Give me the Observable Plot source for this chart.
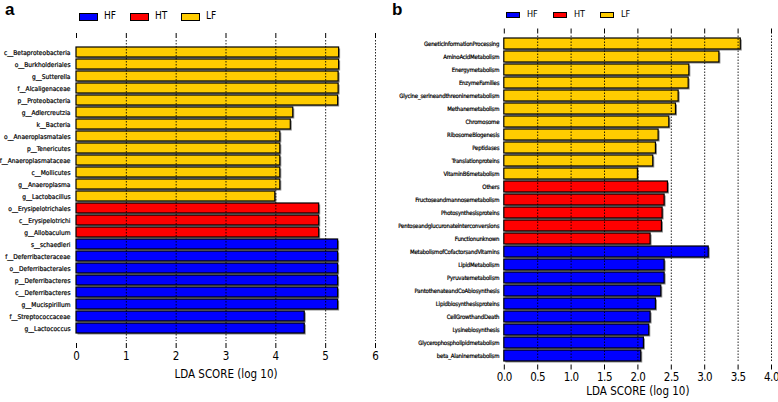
<!DOCTYPE html>
<html><head><meta charset="utf-8">
<script src="https://cdn.jsdelivr.net/npm/d3@7"></script>
<script src="https://cdn.jsdelivr.net/npm/@observablehq/plot@0.6"></script>
<style>
body{margin:0;background:#fff;}
#wrap{position:relative;width:778px;height:402px;overflow:hidden;font-family:"DejaVu Sans Condensed","DejaVu Sans",sans-serif;}
.panel{position:absolute;top:0;}
.panel svg{overflow:visible;}
.panel g[aria-label='y-axis tick label'] text{stroke:#000;stroke-width:0.2px;}
.tag{position:absolute;top:1px;line-height:1;font:bold 17px/1 "Liberation Sans",Arial,sans-serif;color:#000;}
.sw{position:absolute;border:1px solid #000;box-sizing:border-box;}
.lt{position:absolute;font-family:"DejaVu Sans Condensed","DejaVu Sans",sans-serif;color:#000;line-height:1;}
</style></head>
<body><div id="wrap"></div>
<script>
// ---- data ----
const groupNames = ["HF", "HT", "LF"];
const groupColors = ["#0000FF", "#FF0000", "#FFCC00"];

const leftLabels = ["c__Betaproteobacteria","o__Burkholderiales","g__Sutterella","f__Alcaligenaceae","p__Proteobacteria","g__Adlercreutzia","k__Bacteria","o__Anaeroplasmatales","p__Tenericutes","f__Anaeroplasmataceae","c__Mollicutes","g__Anaeroplasma","g__Lactobacillus","o__Erysipelotrichales","c__Erysipelotrichi","g__Allobaculum","s__schaedleri","f__Deferribacteraceae","o__Deferribacterales","p__Deferribacteres","c__Deferribacteres","g__Mucispirillum","f__Streptococcaceae","g__Lactococcus"];
const leftValues = [5.27,5.27,5.26,5.26,5.25,4.35,4.30,4.09,4.09,4.09,4.09,4.09,3.99,4.87,4.87,4.87,5.25,5.25,5.25,5.25,5.25,5.25,4.58,4.58];
const leftGroups = ["LF","LF","LF","LF","LF","LF","LF","LF","LF","LF","LF","LF","LF","HT","HT","HT","HF","HF","HF","HF","HF","HF","HF","HF"];
const leftTicks = [0,1,2,3,4,5,6];

const rightLabels = ["GeneticInformationProcessing","AminoAcidMetabolism","Energymetabolism","EnzymeFamilies","Glycine_serineandthreoninemetabolism","Methanemetabolism","Chromosome","RibosomeBiogenesis","Peptidases","Translationproteins","VitaminB6metabolism","Others","Fructoseandmannosemetabolism","Photosynthesisproteins","Pentoseandglucuronateinterconversions","Functionunknown","MetabolismofCofactorsandVitamins","LipidMetabolism","Pyruvatemetabolism","PantothenateandCoAbiosynthesis","Lipidbiosynthesisproteins","CellGrowthandDeath","Lysinebiosynthesis","Glycerophospholipidmetabolism","beta_Alaninemetabolism"];
const rightValues = [3.54,3.22,2.77,2.76,2.61,2.57,2.47,2.31,2.27,2.23,2.00,2.45,2.40,2.37,2.36,2.19,3.06,2.40,2.40,2.35,2.27,2.19,2.17,2.09,2.05];
const rightGroups = ["LF","LF","LF","LF","LF","LF","LF","LF","LF","LF","LF","HT","HT","HT","HT","HT","HF","HF","HF","HF","HF","HF","HF","HF","HF"];
const rightTicks = [0,0.5,1,1.5,2,2.5,3,3.5,4];

const axisTitle = "LDA SCORE (log 10)";

// ---- drawing ----
function panel(o) {
  const data = o.labels.map((name, i) => ({name, value: o.values[i], group: o.groups[i]}));
  return Plot.plot({
    width: o.width, height: 402,
    marginLeft: o.mL, marginRight: o.mR, marginTop: o.mT, marginBottom: o.mB,
    style: {fontFamily: "DejaVu Sans Condensed, DejaVu Sans, sans-serif", background: "transparent", color: "#000"},
    x: {domain: o.domain},
    y: {domain: o.labels, paddingInner: 0.16, paddingOuter: 0.08},
    color: {domain: groupNames, range: groupColors},
    marks: [
      Plot.barX(data, {x: "value", y: "name", fill: "#8c8c8c", dx: 1.5, dy: 1.5}),
      Plot.barX(data, {x: "value", y: "name", fill: "group", stroke: "#000", strokeWidth: 1.2}),
      Plot.gridX(o.ticks.filter(t => t > 0), {stroke: "#000", strokeOpacity: 0.85, strokeWidth: 1, strokeDasharray: "1.5,1.5"}),
      Plot.axisY({tickSize: 0, tickPadding: o.lpad, fontSize: o.labelSize, label: null, fill: "#000"}),
      Plot.axisX(o.ticks, {anchor: "top", tickSize: 5, tickFormat: () => "", label: null, dy: o.topDy}),
      Plot.axisX(o.ticks, {anchor: "bottom", tickSize: 5, tickPadding: 3, fontSize: 11.5, dy: 2, tickFormat: o.fmt,
        label: axisTitle, labelAnchor: "center", labelArrow: "none", labelOffset: o.labelOffset})
    ]
  });
}

const wrap = document.getElementById("wrap");

function place(svg, left, w) {
  const d = document.createElement("div");
  d.className = "panel";
  d.style.left = left + "px";
  d.style.width = w + "px";
  d.appendChild(svg);
  wrap.appendChild(d);
  return svg;
}

const leftSvg = place(panel({labels: leftLabels, values: leftValues, groups: leftGroups, domain: [0, 6], ticks: leftTicks,
  fmt: d3.format("d"), width: 380, mL: 76, mR: 5, mT: 40, mB: 61, labelSize: 6.6, lpad: 6, topDy: -3, labelOffset: 36}), 0, 380);

const rightSvg = place(panel({labels: rightLabels, values: rightValues, groups: rightGroups, domain: [0, 4], ticks: rightTicks,
  fmt: d3.format(".1f"), width: 400, mL: 125.8, mR: 7, mT: 35.5, mB: 39.5, labelSize: 6, lpad: 5, topDy: -3, labelOffset: 32}), 378, 400);

// condense right-hand labels slightly
rightSvg.querySelectorAll("g[aria-label='y-axis tick label'] text").forEach(t => t.setAttribute("letter-spacing", "-0.2"));
rightSvg.querySelectorAll("g[aria-label='x-axis tick label'] text").forEach(t => t.setAttribute("letter-spacing", "-0.5"));

// panel tags
function tag(txt, x) {
  const s = document.createElement("div");
  s.className = "tag"; s.textContent = txt; s.style.left = x + "px";
  wrap.appendChild(s);
}
tag("a", 5);
tag("b", 392);

// legends
function legend(x0, step, sw, swH, swTop, txtOff, fs) {
  groupNames.forEach((g, i) => {
    const b = document.createElement("div");
    b.className = "sw";
    b.style.left = (x0 + i * step) + "px";
    b.style.top = swTop + "px";
    b.style.width = sw + "px";
    b.style.height = swH + "px";
    b.style.background = groupColors[i];
    wrap.appendChild(b);
    const t = document.createElement("div");
    t.className = "lt";
    t.textContent = g;
    t.style.left = (x0 + i * step + txtOff) + "px";
    t.style.top = (swTop - 2) + "px";
    t.style.fontSize = fs + "px";
    wrap.appendChild(t);
  });
}
legend(79, 51, 19, 8, 12.5, 25, 10);
legend(506, 47, 14, 6, 11.5, 21, 9);
</script>
</body></html>
